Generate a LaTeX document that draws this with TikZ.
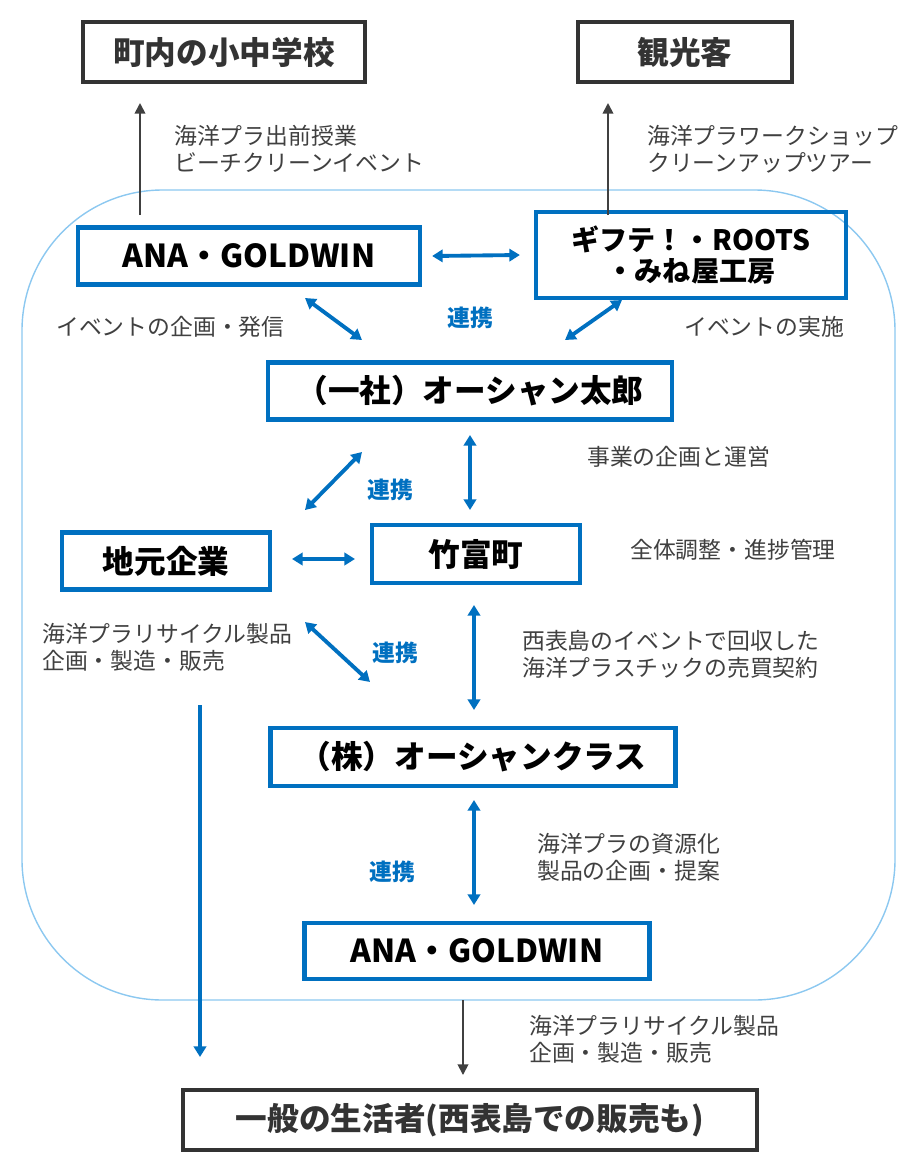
\documentclass[tikz,border=0pt]{standalone}
\usepackage{fontspec}
\setmainfont{Noto Sans CJK JP}
\usetikzlibrary{arrows.meta}
\definecolor{oblue}{RGB}{0,112,192}
\definecolor{ogray}{RGB}{64,64,64}
\definecolor{lblue}{RGB}{140,200,240}
\begin{document}
\begin{tikzpicture}[x=0.02cm,y=-0.02cm]
\tikzset{base/.style={draw,line width=2.4pt,font=\bfseries\fontsize{18}{20}\selectfont,align=center,inner sep=0pt},
org/.style={base,oblue,text=black},
ext/.style={base,black!80},
note/.style={font=\fontsize{13}{15.5}\selectfont,text=ogray,align=left,anchor=west},
link/.style={font=\bfseries\fontsize{13}{15}\selectfont,text=oblue},
both/.style={{Triangle[width=7pt,length=6pt]}-{Triangle[width=7pt,length=6pt]},oblue,line width=2.2pt},
blk/.style={-{Triangle[width=6pt,length=6pt]},ogray,line width=1pt}}
\useasboundingbox (0,0) rectangle (913,1171);
\draw[lblue,line width=0.8pt,rounded corners=80] (22,190) rectangle (895,1000);
% outside
\node[ext,minimum width=282*0.02cm,minimum height=60*0.02cm] at (224,52) (school) {町内の小中学校};
\node[ext,minimum width=214*0.02cm,minimum height=60*0.02cm] at (685,52) (tour) {観光客};
\node[ext,minimum width=574*0.02cm,minimum height=60*0.02cm] at (470,1120) (people) {一般の生活者(西表島での販売も)};
% inside
\node[org,minimum width=342*0.02cm,minimum height=57*0.02cm] at (249,256) (ana) {ANA・GOLDWIN};
\node[org,minimum width=310*0.02cm,minimum height=86*0.02cm,font=\bfseries\fontsize{16}{18}\selectfont] at (691,255) (gift) {ギフテ！・ROOTS\\・みね屋工房};
\node[org,minimum width=404*0.02cm,minimum height=57*0.02cm] at (470,391) (taro) {（一社）オーシャン太郎};
\node[org,minimum width=208*0.02cm,minimum height=57*0.02cm] at (166,561) (local) {地元企業};
\node[org,minimum width=208*0.02cm,minimum height=58*0.02cm] at (476,554) (town) {竹富町};
\node[org,minimum width=405*0.02cm,minimum height=58*0.02cm] at (473,757) (clas) {（株）オーシャンクラス};
\node[org,minimum width=345*0.02cm,minimum height=56*0.02cm] at (477,951) (ana2) {ANA・GOLDWIN};
% arrows
\coordinate (a1) at (140,103); \coordinate (a2) at (608,103);
\coordinate (a3) at (463,1075); \coordinate (a4) at (200,1057);
\draw[blk] (140,215) -- (a1);
\draw[blk] (608,215) -- (a2);
\draw[blk] (463,1000) -- (a3);
\draw[-{Triangle[width=7pt,length=6pt]},oblue,line width=2.2pt] (200,705) -- (a4);
\draw[both] ([xshift=10*0.02cm]ana.east) -- ([xshift=-14*0.02cm]gift.west);
\draw[both] (305,298) -- (362,340);
\draw[both] (622,300) -- (565,340);
\draw[both] (470,435) -- (470,510);
\draw[both] (362,452) -- (305,510);
\draw[both] (292,559) -- (355,559);
\draw[both] (305,622) -- (370,682);
\draw[both] (474,605) -- (474,710);
\draw[both] (474,800) -- (474,905);
\node[link] at (470,318) (l1) {連携};
\node[link] at (390,490) (l2) {連携};
\node[link] at (395,653) (l3) {連携};
\node[link] at (392,872) (l4) {連携};
% notes
\node[note] at (168,149) (n1) {海洋プラ出前授業\\ビーチクリーンイベント};
\node[note] at (641,149) (n2) {海洋プラワークショップ\\クリーンアップツアー};
\node[note] at (50,327) (n3) {イベントの企画・発信};
\node[note] at (678,327) (n4) {イベントの実施};
\node[note] at (581,457) (n5) {事業の企画と運営};
\node[note] at (624,550) (n6) {全体調整・進捗管理};
\node[note] at (36,647) (n7) {海洋プラリサイクル製品\\企画・製造・販売};
\node[note] at (516,654) (n8) {西表島のイベントで回収した\\海洋プラスチックの売買契約};
\node[note] at (531,857) (n9) {海洋プラの資源化\\製品の企画・提案};
\node[note] at (523,1039) (n10) {海洋プラリサイクル製品\\企画・製造・販売};
\end{tikzpicture}
\end{document}
